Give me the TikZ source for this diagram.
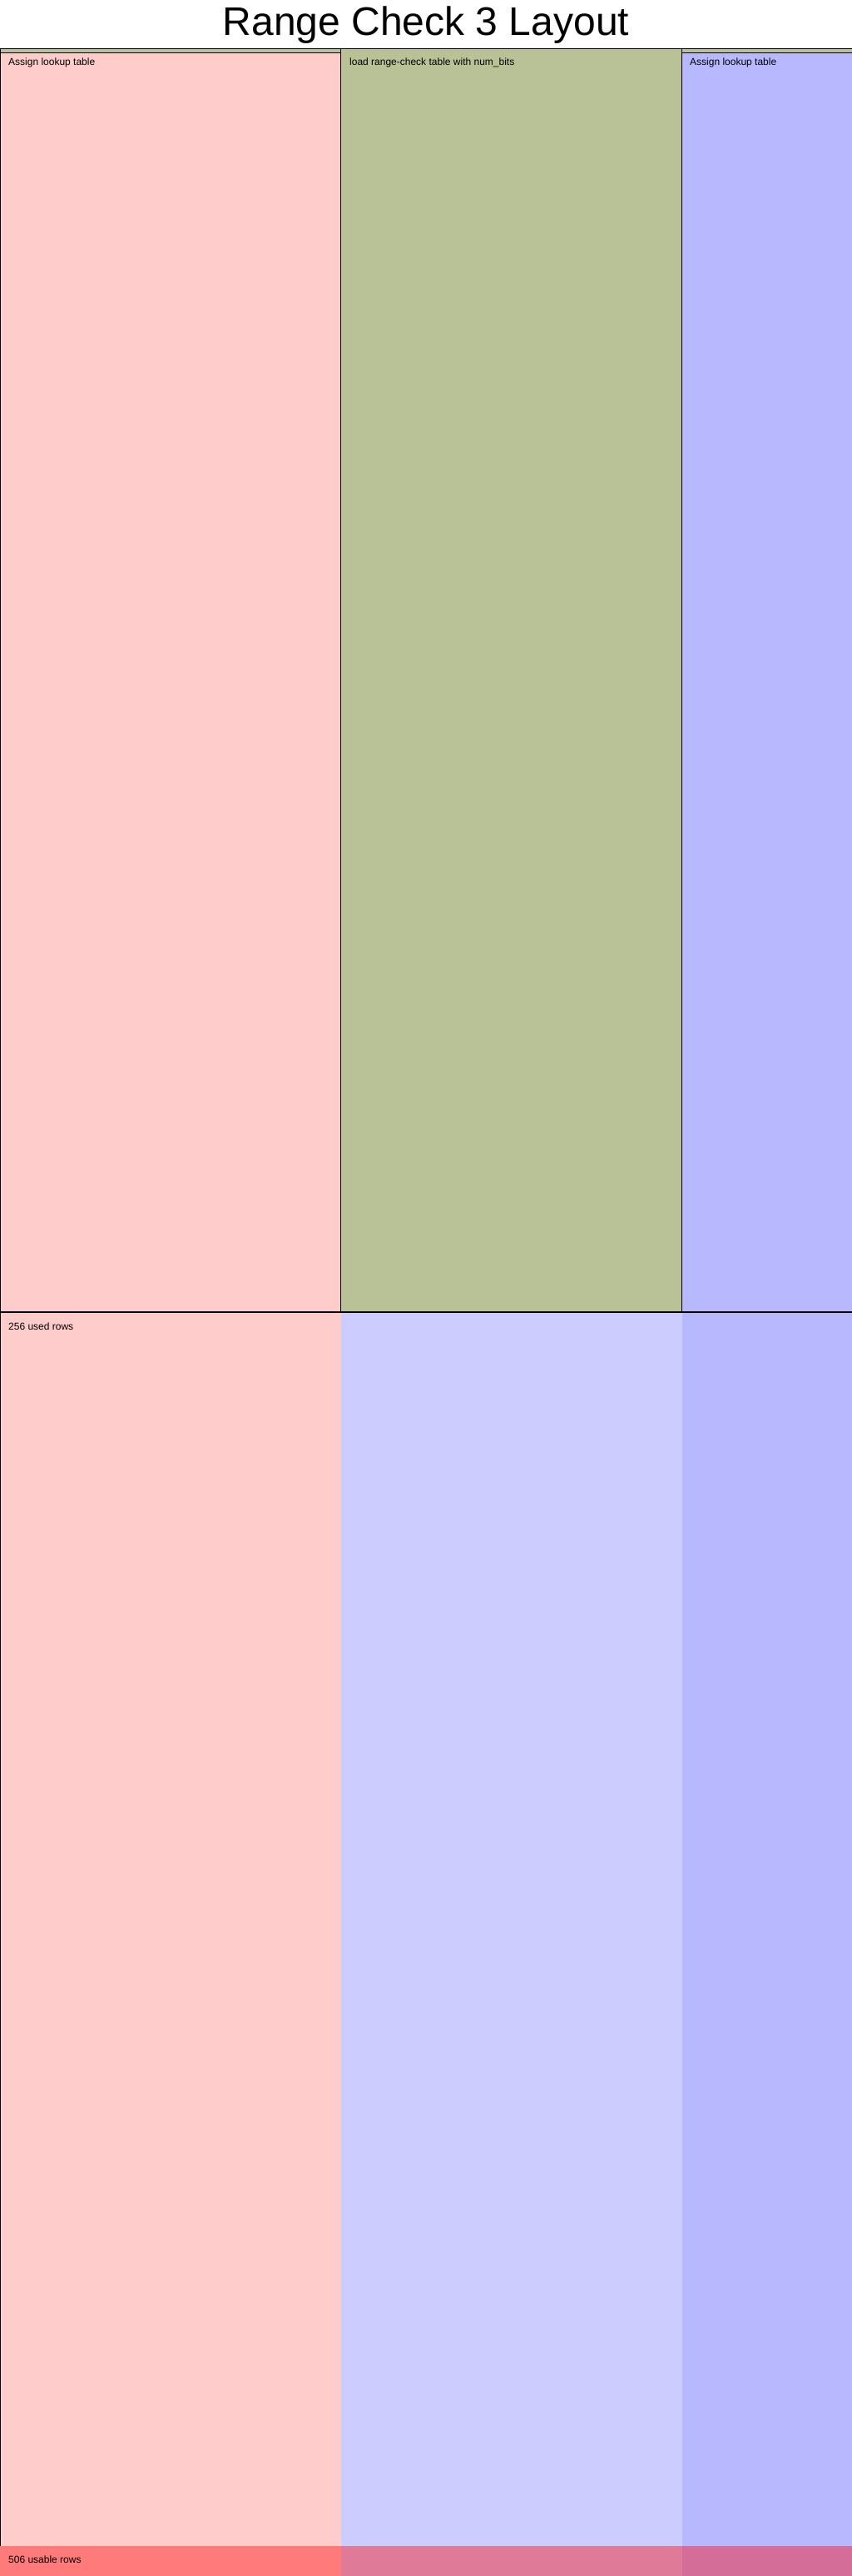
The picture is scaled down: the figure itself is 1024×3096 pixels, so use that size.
\documentclass[tikz,border=0pt]{standalone}
\usepackage{fontspec}
\setmainfont{Liberation Sans}
\usepackage{xcolor}
\usetikzlibrary{positioning}
\definecolor{radvice}{HTML}{FFCCCC}
\definecolor{rfixed}{HTML}{CCCCFF}
\definecolor{rsel}{HTML}{B8B8FF}
\definecolor{rolive}{HTML}{B8C296}
\definecolor{rusepink}{HTML}{FF7A7A}
\definecolor{rusefixed}{HTML}{E07A99}
\definecolor{rusesel}{HTML}{D46E99}

\tikzset{
  rowlabel/.style={font=\fontsize{12}{14}\selectfont, anchor=base west, inner sep=0pt},
  regionbox/.style={draw=black, line width=1.4pt}
}

\begin{document}
\begin{tikzpicture}[x=1pt, y=-1pt]
\useasboundingbox (0,0) rectangle (1024,3096);
\fill[white] (0,0) rectangle (1024,3096);
\node[font=\fontsize{48}{56}\selectfont, anchor=base, inner sep=0pt]
  (title) at (512,43) {Range Check 3 Layout};
% column backgrounds
\fill[radvice] (0,1577) rectangle (410,3060);
\fill[rfixed] (410,1577) rectangle (820,3060);
\fill[rsel] (820,1577) rectangle (1024,3060);
% regions
\fill[rolive, regionbox] (0.7,58.5) rectangle (1030,1577);
\fill[radvice, regionbox] (0.7,63.5) rectangle (409.5,1577);
\draw[regionbox] (409.5,58.5) rectangle (819.5,1577);
\fill[rsel, regionbox] (819.5,63.5) rectangle (1030,1577);
\draw[regionbox] (0.7,1577) -- (0.7,3060);
\node[rowlabel] (assignA) at (10,79) {Assign lookup table};
\node[rowlabel] (loadtable) at (420,79) {load range-check table with num\_bits};
\node[rowlabel] (assignB) at (829,79) {Assign lookup table};
\node[rowlabel] (usedrows) at (10,1598) {256 used rows};
% usable rows band
\fill[rusepink] (0,3060) rectangle (410,3096);
\fill[rusefixed] (410,3060) rectangle (820,3096);
\fill[rusesel] (820,3060) rectangle (1024,3096);
\node[rowlabel] (usablerows) at (10,3080) {506 usable rows};
\end{tikzpicture}
\end{document}
